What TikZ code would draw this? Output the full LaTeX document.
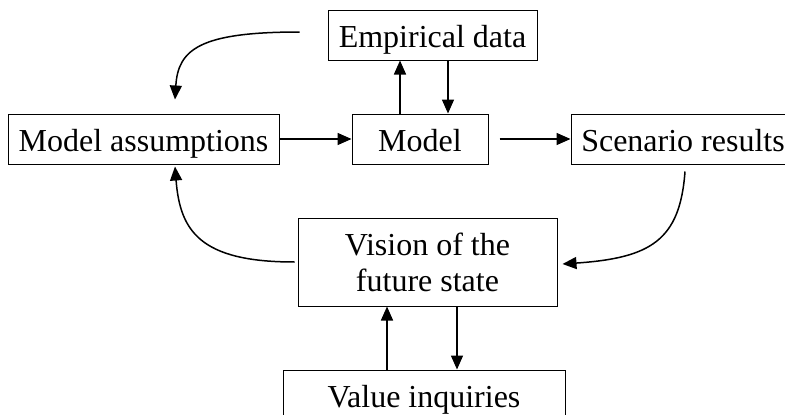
\documentclass[tikz,border=0pt]{standalone}
\usepackage{fontspec}
\setmainfont{Liberation Serif}
\usetikzlibrary{arrows.meta}

\begin{document}
\begin{tikzpicture}[x=1pt,y=-1pt,
  font=\fontsize{32}{36}\selectfont,
  frame/.style={draw,line width=1pt,inner sep=0pt,align=center},
  box/.style={frame,minimum height=50pt,text height=24pt,text depth=0pt},
  arr/.style={-{Triangle[length=14pt,width=12pt]},line width=1.5pt}]
\useasboundingbox (0,0) rectangle (785,415);
\node[box,minimum width=209pt] (emp) at (432.5,35) {Empirical data};
\node[box,minimum width=271pt] (assump) at (143.5,139) {Model assumptions};
\node[box,minimum width=136pt] (model) at (420,139) {Model};
\node[box,minimum width=224pt] (scen) at (683,139) {Scenario results};
\node[frame,minimum width=259pt,minimum height=88pt] (vision) at (427.5,262) {Vision of the\\future state};
\node[box,minimum width=282pt] (value) at (424,395) {Value inquiries};

\draw[arr] (assump) -- (model);
\draw[arr,shorten <=11pt] (model) -- (scen);
\draw[arr] ([xshift=-20pt]model.north) -- ([xshift=-32.5pt]emp.south);
\draw[arr] ([xshift=15.5pt]emp.south) -- ([xshift=28pt]model.north);
\draw[arr] ([xshift=29.5pt]vision.south) -- ([xshift=33pt]value.north);
\draw[arr] ([xshift=-37pt]value.north) -- ([xshift=-40.5pt]vision.south);

\draw[arr] ([xshift=-28pt,yshift=3pt]emp.west) .. controls +(-100,0) and +(3,-50) .. ([xshift=31.5pt,yshift=14pt]assump.north);
\draw[arr] ([xshift=2pt,yshift=-7pt]scen.south) .. controls +(-5,69) and +(88,-6) .. ([xshift=5pt,yshift=-2pt]vision.east);
\draw[arr] ([xshift=-3pt]vision.west) .. controls +(-95,0) and +(5,64) .. ([xshift=31.5pt,yshift=-2pt]assump.south);
\end{tikzpicture}
\end{document}
